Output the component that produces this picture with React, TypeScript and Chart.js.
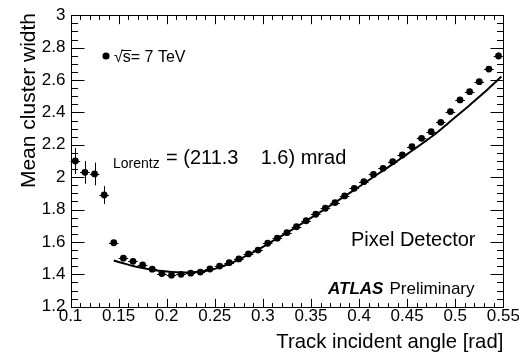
import React, { useEffect, useRef } from 'react';
import { Chart, registerables } from 'chart.js';

Chart.register(...registerables);

// ---- Data ----
const angles = [
  0.105, 0.115, 0.125, 0.135, 0.145, 0.155, 0.165, 0.175, 0.185, 0.195,
  0.205, 0.215, 0.225, 0.235, 0.245, 0.255, 0.265, 0.275, 0.285, 0.295,
  0.305, 0.315, 0.325, 0.335, 0.345, 0.355, 0.365, 0.375, 0.385, 0.395,
  0.405, 0.415, 0.425, 0.435, 0.445, 0.455, 0.465, 0.475, 0.485, 0.495,
  0.505, 0.515, 0.525, 0.535, 0.545,
];
const clusterWidths = [
  2.10, 2.03, 2.02, 1.89, 1.595, 1.50, 1.48, 1.458, 1.432, 1.405,
  1.395, 1.40, 1.407, 1.414, 1.433, 1.451, 1.472, 1.495, 1.526, 1.55,
  1.592, 1.623, 1.657, 1.694, 1.731, 1.771, 1.808, 1.843, 1.884, 1.931,
  1.972, 2.017, 2.055, 2.096, 2.137, 2.188, 2.240, 2.281, 2.339, 2.405,
  2.477, 2.528, 2.59, 2.668, 2.749,
];
const widthErrors = [
  0.08, 0.07, 0.07, 0.055, 0.012, 0.008, 0.007, 0.006, 0.006, 0.005,
  0.005, 0.005, 0.005, 0.005, 0.005, 0.005, 0.005, 0.005, 0.005, 0.005,
  0.005, 0.005, 0.005, 0.005, 0.005, 0.005, 0.005, 0.005, 0.005, 0.005,
  0.005, 0.005, 0.006, 0.006, 0.006, 0.006, 0.007, 0.007, 0.008, 0.008,
  0.009, 0.010, 0.012, 0.015, 0.022,
];
const angleErrors = [
  0.005, 0.005, 0.005, 0.005, 0.005, 0.005, 0.005, 0.005, 0.005, 0.005,
  0.005, 0.005, 0.005, 0.005, 0.005, 0.005, 0.005, 0.005, 0.005, 0.005,
  0.005, 0.005, 0.005, 0.005, 0.005, 0.005, 0.005, 0.005, 0.005, 0.005,
  0.005, 0.005, 0.005, 0.005, 0.005, 0.005, 0.005, 0.005, 0.005, 0.005,
  0.005, 0.005, 0.005, 0.005, 0.005,
];

const fitAngles = [
  0.145, 0.155, 0.165, 0.175, 0.185, 0.195, 0.205, 0.215, 0.225, 0.235,
  0.245, 0.255, 0.265, 0.275, 0.285, 0.295, 0.305, 0.315, 0.325, 0.335,
  0.345, 0.355, 0.365, 0.375, 0.385, 0.395, 0.405, 0.415, 0.425, 0.435,
  0.445, 0.455, 0.465, 0.475, 0.485, 0.495, 0.505, 0.515, 0.525, 0.535,
  0.548,
];
const fitWidths = [
  1.485, 1.468, 1.452, 1.439, 1.428, 1.420, 1.414, 1.411, 1.412, 1.417,
  1.427, 1.443, 1.465, 1.491, 1.521, 1.553, 1.587, 1.622, 1.657, 1.693,
  1.730, 1.767, 1.805, 1.843, 1.882, 1.921, 1.961, 2.001, 2.041, 2.081,
  2.122, 2.163, 2.205, 2.248, 2.295, 2.345, 2.395, 2.445, 2.497, 2.55,
  2.622,
];

const xTickValues = [0.1, 0.15, 0.2, 0.25, 0.3, 0.35, 0.4, 0.45, 0.5, 0.55];
const xTickLabels = ['0.1', '0.15', '0.2', '0.25', '0.3', '0.35', '0.4', '0.45', '0.5', '0.55'];
const yTickValues = [1.2, 1.4, 1.6, 1.8, 2.0, 2.2, 2.4, 2.6, 2.8, 3.0];
const yTickLabels = ['1.2', '1.4', '1.6', '1.8', '2', '2.2', '2.4', '2.6', '2.8', '3'];

const xTitle = 'Track incident angle [rad]';
const yTitle = 'Mean cluster width';
const legendLabel = 's= 7 TeV';
const lorentzSub = 'Lorentz';
const lorentzText = '= (211.3    1.6) mrad';
const detectorText = 'Pixel Detector';
const atlasText = 'ATLAS';
const prelimText = 'Preliminary';

const FONT = '"Liberation Sans", Arial, "DejaVu Sans", sans-serif';

const rootStylePlugin = {
  id: 'rootStyle',
  afterDatasetsDraw(chart: any) {
    const ctx = chart.ctx as CanvasRenderingContext2D;
    const xs = chart.scales.x;
    const ys = chart.scales.y;
    ctx.save();
    ctx.strokeStyle = '#000';
    ctx.lineWidth = 1;
    for (let i = 0; i < angles.length; i++) {
      const px = xs.getPixelForValue(angles[i]);
      const py = ys.getPixelForValue(clusterWidths[i]);
      const x1 = xs.getPixelForValue(angles[i] - angleErrors[i]);
      const x2 = xs.getPixelForValue(angles[i] + angleErrors[i]);
      const y1 = ys.getPixelForValue(clusterWidths[i] - widthErrors[i]);
      const y2 = ys.getPixelForValue(clusterWidths[i] + widthErrors[i]);
      ctx.beginPath();
      ctx.moveTo(x1, Math.round(py) + 0.5);
      ctx.lineTo(x2, Math.round(py) + 0.5);
      ctx.moveTo(Math.round(px) + 0.5, y1);
      ctx.lineTo(Math.round(px) + 0.5, y2);
      ctx.stroke();
    }
    ctx.restore();
  },
  afterDraw(chart: any) {
    const ctx = chart.ctx as CanvasRenderingContext2D;
    const xs = chart.scales.x;
    const ys = chart.scales.y;
    const a = chart.chartArea;
    const L = Math.round(a.left) + 0.5;
    const R = Math.round(a.right) + 0.5;
    const T = Math.round(a.top) + 0.5;
    const B = Math.round(a.bottom) + 0.5;
    ctx.save();
    ctx.strokeStyle = '#000';
    ctx.lineWidth = 1;
    ctx.strokeRect(L, T, R - L, B - T);

    // y ticks (major 0.2, minor 0.05)
    ctx.beginPath();
    for (let i = 0; i <= 36; i++) {
      const v = 1.2 + i * 0.05;
      const py = Math.round(ys.getPixelForValue(v)) + 0.5;
      const len = i % 4 === 0 ? 13 : 6.5;
      ctx.moveTo(L, py);
      ctx.lineTo(L + len, py);
      ctx.moveTo(R, py);
      ctx.lineTo(R - len, py);
    }
    // x ticks (major 0.05, minor 0.01)
    for (let i = 0; i <= 45; i++) {
      const v = 0.1 + i * 0.01;
      const px = Math.round(xs.getPixelForValue(v)) + 0.5;
      const len = i % 5 === 0 ? 8.7 : 4.4;
      ctx.moveTo(px, B);
      ctx.lineTo(px, B - len);
      ctx.moveTo(px, T);
      ctx.lineTo(px, T + len);
    }
    ctx.stroke();

    ctx.fillStyle = '#000';
    // tick labels
    ctx.font = `17px ${FONT}`;
    ctx.textAlign = 'right';
    ctx.textBaseline = 'middle';
    yTickValues.forEach((v, i) => {
      ctx.fillText(yTickLabels[i], a.left - 5, ys.getPixelForValue(v));
    });
    ctx.textAlign = 'center';
    ctx.textBaseline = 'alphabetic';
    xTickValues.forEach((v, i) => {
      ctx.fillText(xTickLabels[i], xs.getPixelForValue(v), 321);
    });

    // axis titles
    ctx.font = `20.3px ${FONT}`;
    ctx.textAlign = 'right';
    ctx.fillText(xTitle, a.right, 348);
    ctx.save();
    ctx.font = `21px ${FONT}`;
    ctx.translate(35, 13);
    ctx.rotate(-Math.PI / 2);
    ctx.textAlign = 'right';
    ctx.fillText(yTitle, 0, 0);
    ctx.restore();

    // legend
    ctx.beginPath();
    ctx.arc(106, 56, 3.6, 0, Math.PI * 2);
    ctx.fill();
    ctx.textAlign = 'left';
    ctx.font = `16px ${FONT}`;
    const rad = '\u221A';
    ctx.fillText(rad, 114, 62);
    const rw = ctx.measureText(rad).width;
    const sx = 114 + rw;
    ctx.fillText(legendLabel, sx, 62);
    const sw = ctx.measureText('s').width;
    ctx.beginPath();
    ctx.moveTo(sx - 1, 50.5);
    ctx.lineTo(sx + sw + 0.5, 50.5);
    ctx.stroke();

    // Lorentz angle text
    ctx.font = `14px ${FONT}`;
    ctx.fillText(lorentzSub, 113, 167.5);
    ctx.font = `20px ${FONT}`;
    ctx.fillText(lorentzText, 166, 163.5);

    // Pixel detector
    ctx.fillText(detectorText, 351, 246);

    // ATLAS Preliminary
    ctx.font = `italic bold 17px ${FONT}`;
    ctx.fillText(atlasText, 328, 293.5);
    ctx.font = `17px ${FONT}`;
    ctx.fillText(prelimText, 389.5, 293.5);
    ctx.restore();
  },
};

export default function App() {
  const canvasRef = useRef<HTMLCanvasElement | null>(null);

  useEffect(() => {
    document.body.style.margin = '0';
    const canvas = canvasRef.current;
    if (!canvas) return;
    const chart = new Chart(canvas, {
      type: 'scatter',
      data: {
        datasets: [
          {
            type: 'line',
            label: 'fit',
            data: fitAngles.map((x, i) => ({ x, y: fitWidths[i] })),
            borderColor: '#000',
            borderWidth: 2,
            pointRadius: 0,
            showLine: true,
            fill: false,
            tension: 0.3,
            order: 2,
          } as any,
          {
            type: 'scatter',
            label: 'data',
            data: angles.map((x, i) => ({ x, y: clusterWidths[i] })),
            pointRadius: 3.4,
            pointBackgroundColor: '#000',
            pointBorderColor: '#000',
            pointBorderWidth: 0,
            order: 1,
          },
        ],
      },
      options: {
        responsive: false,
        animation: false,
        devicePixelRatio: 1,
        layout: { padding: { left: 70.5, top: 15.3, right: 15.7, bottom: 49.3 } },
        plugins: {
          legend: { display: false },
          tooltip: { enabled: false },
        },
        scales: {
          x: { type: 'linear', min: 0.1, max: 0.55, display: false },
          y: { type: 'linear', min: 1.2, max: 3.0, display: false },
        },
      },
      plugins: [rootStylePlugin],
    });
    return () => chart.destroy();
  }, []);

  return (
    <div style={{ position: 'fixed', left: 0, top: 0, width: 519, height: 356, background: '#fff' }}>
      <canvas ref={canvasRef} width={519} height={356} style={{ width: 519, height: 356, display: 'block' }} />
    </div>
  );
}
